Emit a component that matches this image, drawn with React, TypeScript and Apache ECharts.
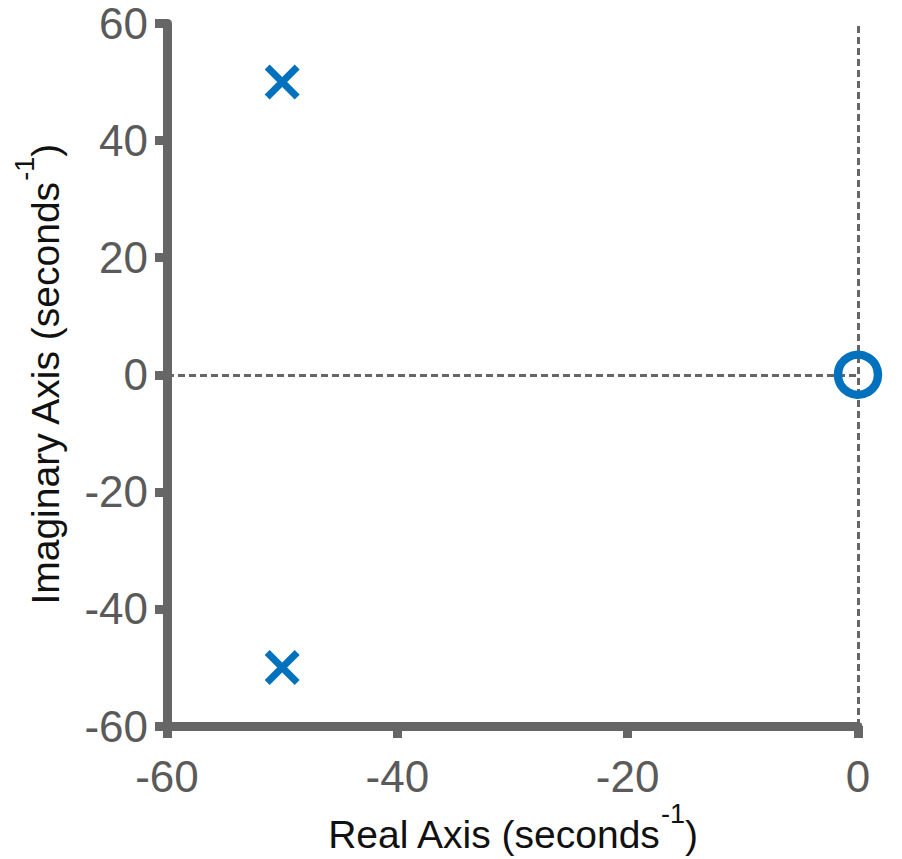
import React, { useEffect, useRef } from "react";
import * as echarts from "echarts";

// Pole-zero map data
const poles: [number, number][] = [
  [-50, 50],
  [-50, -50],
];
const zeros: [number, number][] = [[0, 0]];

const xMin = -60;
const xMax = 0;
const yMin = -60;
const yMax = 60;
const tickStep = 20;

const xTitle = "Real Axis (seconds";
const yTitle = "Imaginary Axis (seconds";
const unitExp = "-1";

const FONT = "'Liberation Sans', Arial, sans-serif";
const AXIS_GRAY = "#666666";
const LABEL_GRAY = "#5a5a5a";
const BLUE = "#0072BD";

const titleRich = {
  m: {
    fontSize: 39,
    lineHeight: 54,
    color: "#111111",
    fontFamily: FONT,
    verticalAlign: "bottom",
  },
  s: {
    fontSize: 27,
    lineHeight: 27,
    color: "#111111",
    fontFamily: FONT,
    verticalAlign: "top",
  },
};

export default function App() {
  const ref = useRef<HTMLDivElement>(null);

  useEffect(() => {
    if (!ref.current) return;
    const chart = echarts.init(ref.current, undefined, { renderer: "svg" });
    const axisCommon = {
      type: "value" as const,
      interval: tickStep,
      splitLine: { show: false },
      axisLine: { show: true, onZero: false, lineStyle: { color: AXIS_GRAY, width: 9 } },
      axisTick: { show: true, length: 12, lineStyle: { color: AXIS_GRAY, width: 9 } },
      nameLocation: "middle" as const,
      nameMoveOverlap: false,
      nameTextStyle: { rich: titleRich },
    };
    chart.setOption({
      animation: false,
      backgroundColor: "#ffffff",
      grid: {
        left: 167,
        right: 44,
        top: 23.5,
        bottom: 133,
        containLabel: false,
        outerBoundsMode: "none",
      },
      xAxis: {
        ...axisCommon,
        min: xMin,
        max: xMax,
        position: "bottom",
        name: `{m|${xTitle}}{s|${unitExp}}{m|)}`,
        nameGap: 74,
        axisLabel: {
          fontSize: 44,
          color: LABEL_GRAY,
          fontFamily: FONT,
          margin: 28,
          showMinLabel: true,
          showMaxLabel: true,
        },
      },
      yAxis: {
        ...axisCommon,
        min: yMin,
        max: yMax,
        position: "left",
        name: `{m|${yTitle}}{s|${unitExp}}{m|)}`,
        nameGap: 102,
        axisLabel: {
          fontSize: 44,
          color: LABEL_GRAY,
          fontFamily: FONT,
          margin: 19,
          showMinLabel: true,
          showMaxLabel: true,
        },
      },
      series: [
        {
          type: "scatter",
          data: zeros,
          symbol: "circle",
          symbolSize: 40,
          itemStyle: { color: "rgba(0,0,0,0)", borderColor: BLUE, borderWidth: 8.5, opacity: 1 },
          z: 5,
          markLine: {
            silent: true,
            symbol: ["none", "none"],
            label: { show: false },
            lineStyle: { color: AXIS_GRAY, width: 3, type: [7, 4] },
            data: [{ xAxis: 0 }, { yAxis: 0 }],
            z: 1,
          },
        },
        {
          type: "scatter",
          data: poles,
          symbol: "path://M0 0L30 30M30 0L0 30",
          symbolSize: 30,
          itemStyle: { color: "rgba(0,0,0,0)", borderColor: BLUE, borderWidth: 7, opacity: 1 },
          z: 5,
        },
      ],
    });
    return () => chart.dispose();
  }, []);

  return (
    <div
      ref={ref}
      style={{ position: "fixed", left: 0, top: 0, width: 902, height: 859, background: "#fff" }}
    />
  );
}
